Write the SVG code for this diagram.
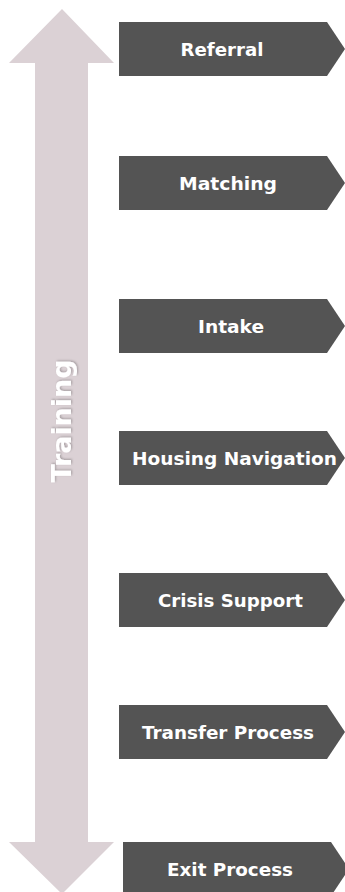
<svg xmlns="http://www.w3.org/2000/svg" width="345" height="892" viewBox="0 0 345 892">
  <defs>
    <path id="chev" d="M0,0 H208 L226,27 L208,54 H0 Z"/>
    <filter id="ts" x="-20%" y="-20%" width="140%" height="140%">
      <feDropShadow dx="1" dy="1" stdDeviation="1" flood-color="#000" flood-opacity="0.25"/>
    </filter>
  </defs>
  <style>
    .box { fill: #545454; }
    .lbl { fill: #ffffff; font-family: "DejaVu Sans", "Open Sans", sans-serif; font-weight: 700; font-size: 18px; text-anchor: middle; }
    .bar { fill: #dbd1d5; }
    .ttl { fill: #ffffff; font-family: "DejaVu Sans", "Open Sans", sans-serif; font-weight: 700; font-size: 27px; text-anchor: middle; }
  </style>
  <rect width="345" height="892" fill="#ffffff"/>

  <g id="training">
    <path class="bar" d="M62,9 L114,63 L88,63 L88,842 L114,842 L62,894 L9,842 L35,842 L35,63 L9,63 Z"/>
    <text class="ttl" filter="url(#ts)" transform="translate(71,421) rotate(-90)" textLength="123" lengthAdjust="spacingAndGlyphs">Training</text>
  </g>

  <g id="connectors"></g>

  <g id="referral">
    <use href="#chev" class="box" x="119" y="22"/>
    <text class="lbl" x="222" y="55.5" textLength="83" lengthAdjust="spacingAndGlyphs">Referral</text>
  </g>
  <g id="matching">
    <use href="#chev" class="box" x="119" y="156"/>
    <text class="lbl" x="228" y="189.5" textLength="98" lengthAdjust="spacingAndGlyphs">Matching</text>
  </g>
  <g id="intake">
    <use href="#chev" class="box" x="119" y="299"/>
    <text class="lbl" x="231" y="332.5" textLength="66" lengthAdjust="spacingAndGlyphs">Intake</text>
  </g>
  <g id="housing-navigation">
    <use href="#chev" class="box" x="119" y="431"/>
    <text class="lbl" x="234.5" y="464.5" textLength="205" lengthAdjust="spacingAndGlyphs">Housing Navigation</text>
  </g>
  <g id="crisis-support">
    <use href="#chev" class="box" x="119" y="573"/>
    <text class="lbl" x="230.5" y="606.5" textLength="145" lengthAdjust="spacingAndGlyphs">Crisis Support</text>
  </g>
  <g id="transfer-process">
    <use href="#chev" class="box" x="119" y="705"/>
    <text class="lbl" x="228" y="738.5" textLength="172" lengthAdjust="spacingAndGlyphs">Transfer Process</text>
  </g>
  <g id="exit-process">
    <use href="#chev" class="box" x="123" y="842"/>
    <text class="lbl" x="230" y="875.5" textLength="126" lengthAdjust="spacingAndGlyphs">Exit Process</text>
  </g>
</svg>
